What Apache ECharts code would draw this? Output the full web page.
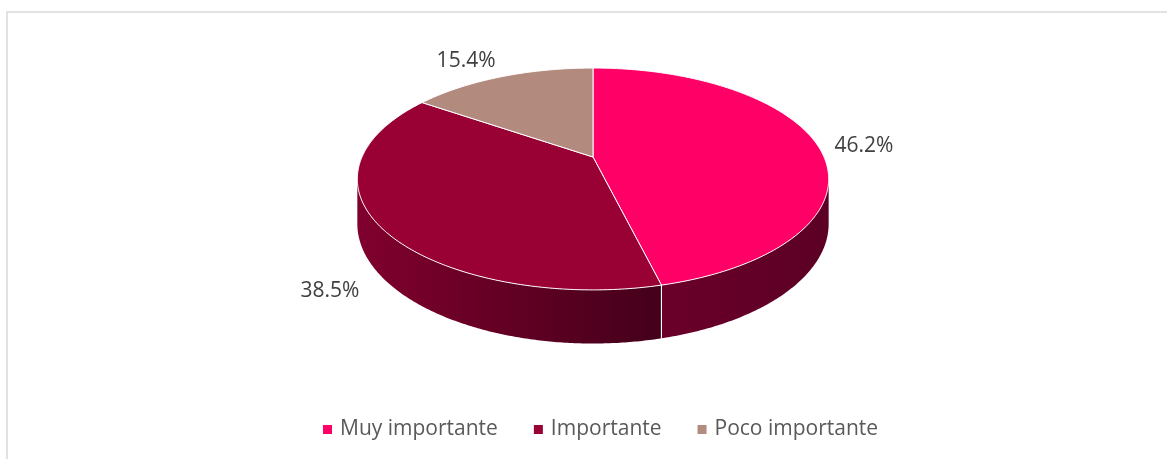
<!DOCTYPE html>
<html><head><meta charset="utf-8">
<script src="https://cdn.jsdelivr.net/npm/echarts@6/dist/echarts.min.js"></script>
<style>html,body{margin:0;padding:0;background:#fff}#c{width:1167px;height:459px}</style>
</head><body><div id="c"></div>
<script>
const categories = ['Muy importante', 'Importante', 'Poco importante'];
const values = [46.2, 38.5, 15.4];

const total = values.reduce((a, b) => a + b, 0);
const starts = [];
{ let acc = 0; for (const v of values) { starts.push(acc); acc += v; } }

// styles
const topColors = ['#FF0066', '#990033', '#B38A7E'];
const sideGrad = [['#6a002a', '#5c0025'], ['#80002e', '#44001a'], ['#7a5a52', '#6a4a44']];

// 3D projection geometry (layout)
const G = { cx: 593, cy: 157, a: 75.5, c: -0.198, R: 231, D: 43 };
function project(u, v, h) {
  const d = 1 + G.c * v;
  return [G.cx + G.R * u / d, (G.a * v + G.cy + h * G.D) / d];
}
function pt(t, k, h) { return project(k * Math.sin(t), -k * Math.cos(t), h); }

function renderItem(params, api) {
  const i = params.seriesIndex;
  const v = api.value(0), s = api.value(1);
  const t0 = s / total * 2 * Math.PI, t1 = (s + v) / total * 2 * Math.PI;
  const children = [];
  const step = Math.PI / 360;
  const thR = Math.acos(G.c), thL = 2 * Math.PI - thR;
  const a0 = Math.max(t0, thR), a1 = Math.min(t1, thL);
  if (a1 > a0) {
    const pts = [];
    const n = Math.max(2, Math.ceil((a1 - a0) / step));
    for (let j = 0; j <= n; j++) pts.push(pt(a0 + (a1 - a0) * j / n, 1, 0));
    for (let j = n; j >= 0; j--) pts.push(pt(a0 + (a1 - a0) * j / n, 1, 1));
    children.push({
      type: 'polygon', shape: { points: pts }, z2: 1,
      style: {
        fill: new echarts.graphic.LinearGradient(0, 0, 1, 0, [
          { offset: 0, color: sideGrad[i][0] }, { offset: 1, color: sideGrad[i][1] }]),
        stroke: null
      }
    });
    [t0, t1].forEach(t => {
      if (t >= thR && t <= thL) {
        const p0 = pt(t, 1, 0), p1 = pt(t, 1, 1);
        children.push({ type: 'line', z2: 2, shape: { x1: p0[0], y1: p0[1], x2: p1[0], y2: p1[1] },
          style: { stroke: '#ffffff', lineWidth: 1 } });
      }
    });
  }
  const tp = [project(0, 0, 0)];
  const n2 = Math.max(2, Math.ceil((t1 - t0) / step));
  for (let j = 0; j <= n2; j++) tp.push(pt(t0 + (t1 - t0) * j / n2, 1, 0));
  children.push({
    type: 'polygon', shape: { points: tp }, z2: 3,
    style: { fill: api.visual('color'), stroke: '#ffffff', lineWidth: 1, lineJoin: 'round' }
  });
  // label
  const tm = (t0 + t1) / 2;
  const um = Math.sin(tm), vm = -Math.cos(tm);
  const front = (tm >= thR && tm <= thL);
  const lp = pt(tm, 1.08, front ? 1 : 0);
  const mid = vm >= -0.5 && vm <= 0.5;
  children.push({
    type: 'text', x: lp[0], y: lp[1] + (mid ? 3 : 0), z2: 4,
    style: {
      text: v.toFixed(1) + '%', fill: '#404040',
      font: '21px "Open Sans"',
      align: um >= 0 ? 'left' : 'right',
      verticalAlign: vm < -0.5 ? 'bottom' : (vm > 0.5 ? 'top' : 'middle')
    }
  });
  return { type: 'group', children };
}

const chart = echarts.init(document.getElementById('c'), null, { renderer: 'canvas' });
chart.setOption({
  animation: false,
  backgroundColor: '#ffffff',
  graphic: [{
    type: 'rect', shape: { x: 7, y: 12, width: 1300, height: 600 },
    style: { fill: 'none', stroke: '#d9d9d9', lineWidth: 1.5 }, silent: true, z: -1
  }],
  legend: {
    data: categories, icon: 'rect', itemWidth: 9, itemHeight: 9, itemGap: 36,
    left: 318, top: 414,
    textStyle: { fontSize: 21, color: '#595959', fontFamily: 'Open Sans', padding: [0, 0, 0, 3] }
  },
  series: categories.map((name, i) => ({
    type: 'custom', name, coordinateSystem: 'none', renderItem, silent: true, clip: false,
    itemStyle: { color: topColors[i] },
    data: [[values[i], starts[i]]]
  }))
});
</script></body></html>
